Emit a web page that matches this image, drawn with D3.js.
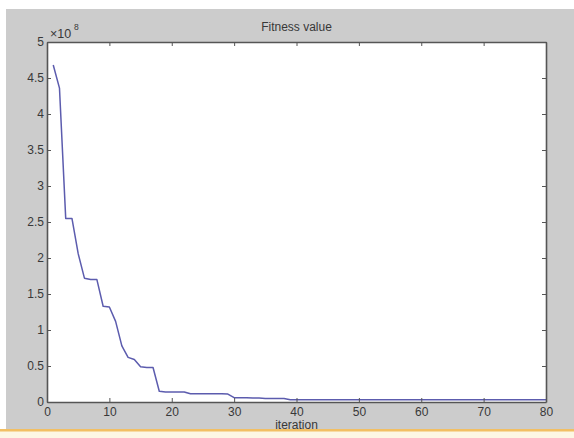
<!DOCTYPE html>
<html>
<head>
<meta charset="utf-8">
<script src="https://cdn.jsdelivr.net/npm/d3@7"></script>
<style>
  body { margin: 0; background: #fff; }
  svg { display: block; }
  .axis text { font-family: "Liberation Sans", Arial, sans-serif; font-size: 12px; fill: #383838; }
  .axis path, .axis line { stroke: #555; }
</style>
</head>
<body>
<svg id="chart" width="574" height="438"></svg>
<script>
// best fitness per iteration (x 1e8)
const iterations = d3.range(1, 81);
const fitness = [
  4.68, 4.36, 2.55, 2.55, 2.06, 1.72, 1.70, 1.70, 1.33, 1.32,
  1.12, 0.78, 0.62, 0.59, 0.49, 0.48, 0.48, 0.15, 0.14, 0.14,
  0.14, 0.14, 0.115, 0.115, 0.115, 0.115, 0.115, 0.115, 0.11, 0.06,
  0.06, 0.06, 0.055, 0.055, 0.05, 0.05, 0.05, 0.05, 0.03, 0.03,
  0.03, 0.03, 0.03, 0.03, 0.03, 0.03, 0.03, 0.03, 0.03, 0.03,
  0.03, 0.03, 0.03, 0.03, 0.03, 0.03, 0.03, 0.03, 0.03, 0.03,
  0.03, 0.03, 0.03, 0.03, 0.03, 0.03, 0.03, 0.03, 0.03, 0.03,
  0.03, 0.03, 0.03, 0.03, 0.03, 0.03, 0.03, 0.03, 0.03, 0.03
];
const xTicks = [0, 10, 20, 30, 40, 50, 60, 70, 80];
const yTicks = [0, 0.5, 1, 1.5, 2, 2.5, 3, 3.5, 4, 4.5, 5];

const svg = d3.select('#chart');
const width = +svg.attr('width');
const height = +svg.attr('height');

// page background: white strips, grey figure, orange bar at the bottom
svg.append('rect').attr('x', 0).attr('y', 0).attr('width', width).attr('height', height).attr('fill', '#fff');
svg.append('rect').attr('x', 6).attr('y', 9).attr('width', width - 6).attr('height', 420).attr('fill', '#cccccc');
svg.append('rect').attr('x', 0).attr('y', 429).attr('width', width).attr('height', 9).attr('fill', '#fdf7e4');
svg.append('rect').attr('x', 0).attr('y', 429).attr('width', width).attr('height', 2.5).attr('fill', '#f2bf63');

const m = { left: 47, top: 42, right: 546, bottom: 402 };
const x = d3.scaleLinear().domain([0, 80]).range([m.left, m.right]);
const y = d3.scaleLinear().domain([0, 5]).range([m.bottom, m.top]);

svg.append('rect')
  .attr('x', m.left).attr('y', m.top)
  .attr('width', m.right - m.left).attr('height', m.bottom - m.top)
  .attr('fill', '#fff');

const line = d3.line()
  .x((d, i) => x(iterations[i]))
  .y(d => y(d));

svg.append('path')
  .datum(fitness)
  .attr('fill', 'none')
  .attr('stroke', '#5c5cae')
  .attr('stroke-width', 1.5)
  .attr('stroke-linejoin', 'round')
  .attr('d', line);

// axes, MATLAB style ticks pointing inward
const fmt = d => d3.format('~g')(d);
svg.append('g').attr('class', 'axis')
  .attr('transform', `translate(0,${m.bottom})`)
  .call(d3.axisBottom(x).tickValues(xTicks).tickFormat(fmt).tickSizeInner(-4).tickSizeOuter(0).tickPadding(5))
  .call(g => g.select('.domain').attr('stroke-width', 1.6));
svg.append('g').attr('class', 'axis')
  .attr('transform', `translate(${m.left},0)`)
  .call(d3.axisLeft(y).tickValues(yTicks).tickFormat(fmt).tickSizeInner(-4).tickSizeOuter(0).tickPadding(3))
  .call(g => g.select('.domain').attr('stroke-width', 1.6));
svg.append('g').attr('class', 'axis')
  .attr('transform', `translate(0,${m.top})`)
  .call(d3.axisTop(x).tickValues(xTicks).tickFormat('').tickSizeInner(-4).tickSizeOuter(0))
  .call(g => g.select('.domain').attr('stroke-width', 1.6));
svg.append('g').attr('class', 'axis')
  .attr('transform', `translate(${m.right},0)`)
  .call(d3.axisRight(y).tickValues(yTicks).tickFormat('').tickSizeInner(-4).tickSizeOuter(0))
  .call(g => g.select('.domain').attr('stroke-width', 1.6));

const txt = { 'font-family': '"Liberation Sans", Arial, sans-serif', fill: '#383838' };
function label(t, px, py, size, anchor) {
  const el = svg.append('text').attr('x', px).attr('y', py)
    .attr('font-size', size).attr('text-anchor', anchor || 'middle').text(t);
  Object.entries(txt).forEach(([k, v]) => el.attr(k, v));
  return el;
}

label('Fitness value', (m.left + m.right) / 2, 31, 12);
label('iteration', (m.left + m.right) / 2, 429, 12);
label('×10', 50, 38, 12.5, 'start');
label('8', 74, 30, 8.5, 'start');
</script>
</body>
</html>
